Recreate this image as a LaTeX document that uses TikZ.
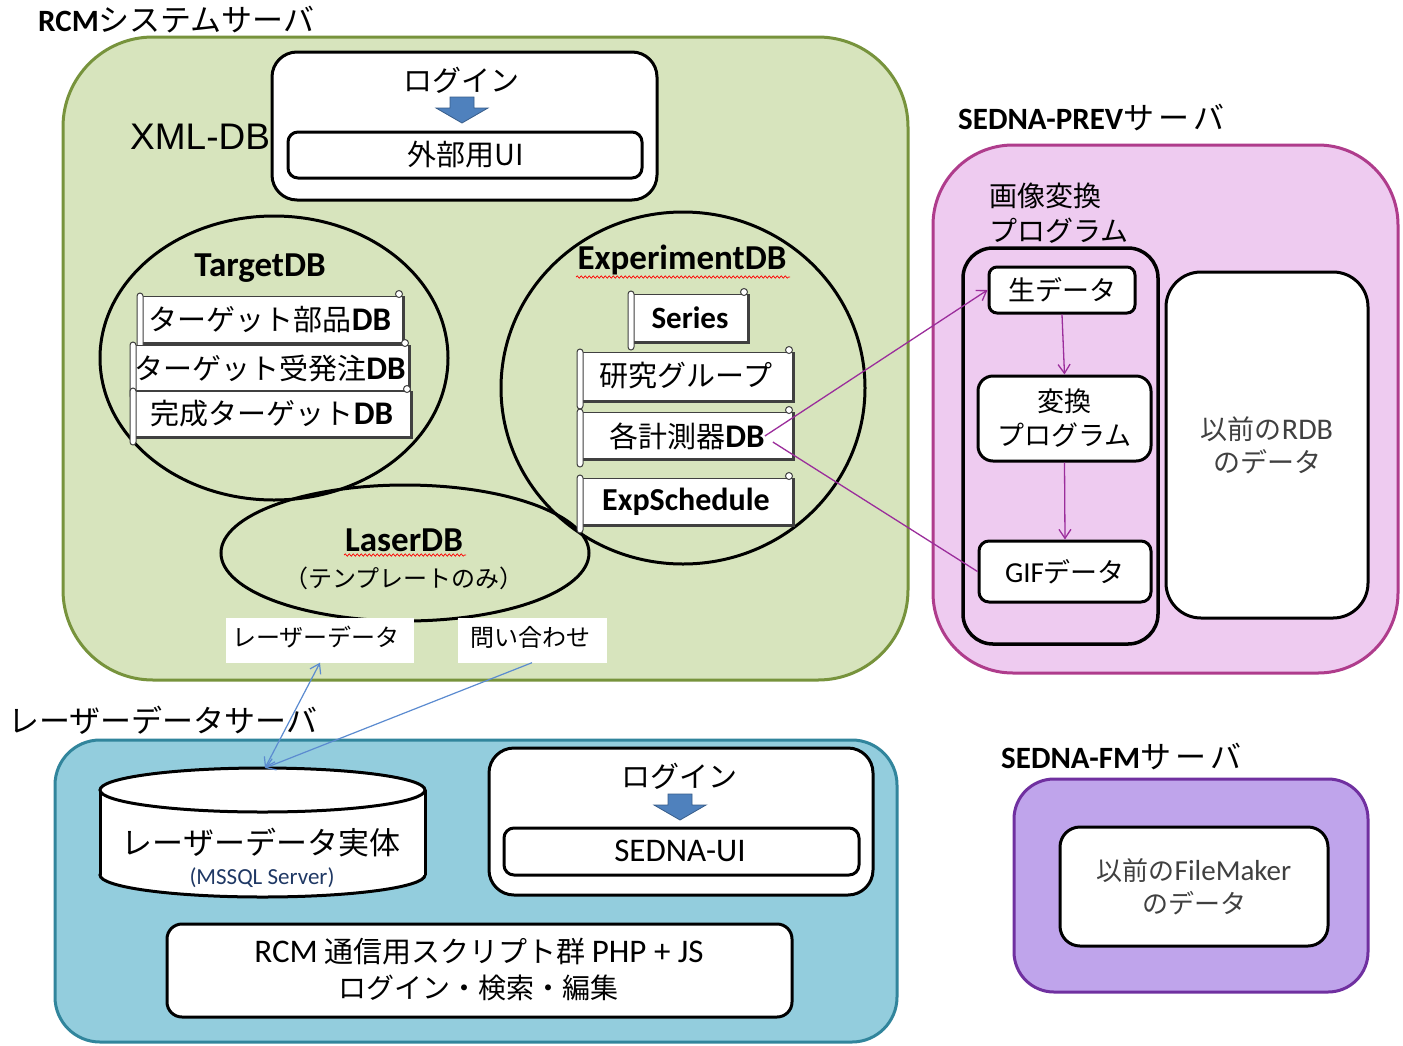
\documentclass[tikz,border=0pt]{standalone}
\usepackage{fontspec}
\setmainfont{Noto Sans CJK JP}
\newfontfamily\latf{Carlito}
\newfontfamily\arialf{Liberation Sans}
\usetikzlibrary{shapes.geometric,arrows.meta,decorations.pathmorphing}
\definecolor{gfill}{HTML}{D7E4BD}
\definecolor{gline}{HTML}{77933C}
\definecolor{bfill}{HTML}{93CDDD}
\definecolor{bline}{HTML}{31859C}
\definecolor{pfill}{HTML}{EECBF0}
\definecolor{pline}{HTML}{AF3C8C}
\definecolor{vfill}{HTML}{BFA4EB}
\definecolor{vline}{HTML}{7030A0}
\definecolor{arrblue}{HTML}{4F81BD}
\definecolor{arrline}{HTML}{385D8A}
\definecolor{pconn}{HTML}{9B2D9B}
\definecolor{bconn}{HTML}{5B8BD0}
\definecolor{navy}{HTML}{1F3864}
\definecolor{scrl}{HTML}{404040}
\newcommand\fsz[2]{\fontsize{#1pt}{#2pt}\selectfont}
\newcommand\scrollshape[4]{%
  \draw[scrl, line width=2pt] (#1+6,#4+1.5) -- (#3+1.5,#4+1.5) -- (#3+1.5,#2);
  \draw[scrl, line width=1pt, fill=white] (#1+5,#2) rectangle (#3,#4);
  \draw[scrl, line width=1pt, fill=white, rounded corners=3pt] (#1,#2-3) rectangle (#1+6,#4+9);
  \draw[scrl, line width=1pt, fill=white] (#3-3,#2-2) circle[radius=3.5pt];
}
\newcommand\blockarrow[2]{% center x, top y
  \draw[arrline, fill=arrblue, line width=0.8pt] (#1-12,#2) -- (#1+12,#2) -- (#1+12,#2+11) -- (#1+26,#2+11) -- (#1,#2+26) -- (#1-26,#2+11) -- (#1-12,#2+11) -- cycle;
}
\tikzset{
  container/.style={line width=3pt},
  wbox/.style={draw=black, fill=white, line width=3pt},
  dbell/.style={ellipse, draw=black, line width=3pt, inner sep=0pt},
  jtxt/.style={inner sep=0pt, font=\fsz{28}{34}},
  btxt/.style={inner sep=0pt, font=\latf\bfseries\fsz{35}{40}},
  ttl/.style={inner sep=0pt, anchor=west, font=\fsz{31}{36}},
  pline/.style={draw=pconn, line width=1.3pt},
  bcon/.style={draw=bconn, line width=1.2pt},
  tip/.style={-{Straight Barb[length=9pt,width=12pt]}},
  wavy/.style={draw=red, line width=0.7pt, decorate, decoration={snake, amplitude=1.2pt, segment length=4pt}},
}
\begin{document}
\begin{tikzpicture}[x=1pt,y=-1pt]
\useasboundingbox (0,0) rectangle (1403,1045);
\fill[white] (0,0) rectangle (1403,1045);

% ===== RCM system server =====
\node[ttl] (rcmtitle) at (38,20) {{\latf\bfseries\fsz{31}{36}RCM}システムサーバ};
\node[container, draw=gline, fill=gfill, rounded corners=90pt, minimum width=845pt, minimum height=643pt] (rcm) at (485.5,358.5) {};
\node[inner sep=0pt, anchor=west, font=\arialf\fsz{37}{40}] (xmldb) at (130,137) {XML-DB};

\node[wbox, rounded corners=25pt, minimum width=385pt, minimum height=148pt] (login1) at (464.5,126) {};
\node[jtxt, font=\fsz{29}{34}] (login1t) at (461,80) {ログイン};
\blockarrow{462}{97}
\node[wbox, rounded corners=10pt, minimum width=354pt, minimum height=46pt] (ui1) at (465,155) {};
\node[jtxt, font=\fsz{29}{34}] (ui1t) at (466,155) {外部用UI};

% ellipses
\node[dbell, minimum width=348pt, minimum height=284pt] (tgt) at (274,358) {};
\node[dbell, minimum width=364pt, minimum height=352pt] (exp) at (683,388) {};
\node[dbell, minimum width=368pt, minimum height=136pt] (las) at (405,553) {};

\node[btxt] (tgtt) at (260,268) {TargetDB};
\node[btxt] (expt) at (682,260) {ExperimentDB};
\draw[wavy] (576,277) -- (790,277);
\node[btxt] (last) at (404,540) {LaserDB};
\draw[wavy] (344,555) -- (466,555);
\node[jtxt, font=\fsz{24}{30}] (lastp) at (404,578) {（テンプレートのみ）};

% scrolls TargetDB
\scrollshape{137}{296}{402}{342}
\node[jtxt, font=\fsz{29}{34}] (s1) at (270,320) {ターゲット部品{\latf\bfseries\fsz{33}{34}DB}};
\scrollshape{130}{345}{408}{390}
\node[jtxt, font=\fsz{29}{34}] (s2) at (270,368) {ターゲット受発注{\latf\bfseries\fsz{33}{34}DB}};
\scrollshape{130}{391}{410}{436}
\node[jtxt, font=\fsz{29}{34}] (s3) at (272,414) {完成ターゲット{\latf\bfseries\fsz{33}{34}DB}};

% scrolls ExperimentDB
\scrollshape{628}{294}{747}{341}
\node[btxt, font=\latf\bfseries\fsz{31}{36}] (s4) at (690,318) {Series};
\scrollshape{577}{352}{792}{400}
\node[jtxt, font=\fsz{29}{34}] (s5) at (686,376) {研究グループ};
\scrollshape{577}{412}{792}{458}
\node[jtxt, font=\fsz{29}{34}] (s6) at (687,436) {各計測器{\latf\bfseries\fsz{33}{34}DB}};
\scrollshape{577}{478}{792}{524}
\node[btxt, font=\latf\bfseries\fsz{32}{36}] (s7) at (686,502) {ExpSchedule};

% labels
\node[fill=white, minimum width=188pt, minimum height=45pt, inner sep=0pt] (lbl1) at (320,640) {};
\node[jtxt, font=\fsz{24}{30}] (lbl1t) at (316,637) {レーザーデータ};
\node[fill=white, minimum width=149pt, minimum height=45pt, inner sep=0pt] (lbl2) at (532,640) {};
\node[jtxt, font=\fsz{24}{30}] (lbl2t) at (530,637) {問い合わせ};

% ===== Laser data server =====
\node[ttl] (lastitle) at (8,720) {レーザーデータサーバ};
\node[container, draw=bline, fill=bfill, rounded corners=45pt, minimum width=842pt, minimum height=302pt] (lsrv) at (476,891) {};

% cylinder
\node[ellipse, draw=black, fill=white, line width=3pt, minimum width=325pt, minimum height=44pt, inner sep=0pt] (cylbot) at (262.5,875) {};
\fill[white] (101.5,790) rectangle (423.5,875);
\draw[line width=3pt] (100,790) -- (100,875) (425,790) -- (425,875);
\node[ellipse, draw=black, fill=white, line width=3pt, minimum width=325pt, minimum height=44pt, inner sep=0pt] (cyltop) at (262.5,790) {};
\coordinate (cylpt) at (265,768);
\node[jtxt, font=\fsz{31}{34}] (cylt) at (261,843) {レーザーデータ実体};
\node[inner sep=0pt, font=\latf\fsz{23}{26}, text=navy] (cyls) at (262,878) {(MSSQL Server)};

\node[wbox, rounded corners=25pt, minimum width=384pt, minimum height=147pt] (login2) at (681,821.5) {};
\node[jtxt, font=\fsz{29}{34}] (login2t) at (679,776) {ログイン};
\blockarrow{680}{794}
\node[wbox, rounded corners=10pt, minimum width=355pt, minimum height=47pt] (ui2) at (681.5,851.5) {};
\node[inner sep=0pt, font=\latf\fsz{33}{36}] (ui2t) at (680,851) {SEDNA-UI};

\node[wbox, rounded corners=15pt, minimum width=625pt, minimum height=93pt] (script) at (479.5,970.5) {};
\node[jtxt, font=\fsz{29}{36}] (scr1) at (479,952) {{\latf\fsz{33}{36}RCM} 通信用スクリプト群 {\latf\fsz{33}{36}PHP + JS}};
\node[jtxt, font=\fsz{28}{36}] (scr2) at (478,988) {ログイン・検索・編集};

% connectors blue
\draw[bcon, {Straight Barb[length=9pt,width=12pt]}-{Straight Barb[length=9pt,width=12pt]}] (cylpt) -- (lbl1.south);
\draw[bcon, tip] (lbl2.south) -- (cylpt);

% ===== SEDNA-PREV server =====
\node[ttl] (prevtitle) at (958,118) {{\latf\bfseries\fsz{31}{36}SEDNA-PREV}サ\hspace{4pt}ー\hspace{4pt}バ};
\node[container, draw=pline, fill=pfill, rounded corners=80pt, minimum width=465pt, minimum height=528pt] (prev) at (1165.5,409) {};
\node[inner sep=0pt, anchor=west, font=\fsz{28}{34}] (imgt1) at (989,196) {画像変換};
\node[inner sep=0pt, anchor=west, font=\fsz{28}{34}] (imgt2) at (989,231) {プログラム};
\node[draw=black, line width=3.5pt, rounded corners=30pt, minimum width=195pt, minimum height=396pt] (prog) at (1060.5,446) {};
\node[wbox, rounded corners=8pt, minimum width=146pt, minimum height=46pt, font=\fsz{27}{32}, inner sep=0pt] (raw) at (1062,290) {生データ};
\node[wbox, rounded corners=15pt, minimum width=173pt, minimum height=85pt, font=\fsz{27}{34}, align=center, inner sep=0pt] (conv) at (1064.5,418.5) {変換\\プログラム};
\node[wbox, rounded corners=10pt, minimum width=172pt, minimum height=61pt, font=\fsz{27}{32}, inner sep=0pt] (gif) at (1065,571.5) {{\latf\fsz{29}{32}GIF}データ};
\node[wbox, rounded corners=35pt, minimum width=202pt, minimum height=346pt, font=\fsz{27}{33}, align=center, text=black!75] (rdb) at (1267,445) {以前の{\latf\fsz{30}{33}RDB}\\のデータ};

\draw[pline, tip] (raw.south) -- (conv.north);
\draw[pline, tip] (conv.south) -- (gif.north);
\draw[pline, tip] (s6.east) -- (raw.west);
\coordinate (s6b) at ([shift={(8,6)}]s6.east);
\draw[pline] (s6b) -- (gif.west);

% ===== SEDNA-FM server =====
\node[ttl] (fmtitle) at (1001,757) {{\latf\bfseries\fsz{31}{36}SEDNA-FM}サ\hspace{4pt}ー\hspace{4pt}バ};
\node[container, draw=vline, fill=vfill, rounded corners=40pt, minimum width=354pt, minimum height=213pt] (fm) at (1191,885.5) {};
\node[wbox, rounded corners=20pt, minimum width=268pt, minimum height=119pt, font=\fsz{26}{33}, align=center, text=black!75] (fmdata) at (1194,886.5) {以前の{\latf\fsz{29}{33}FileMaker}\\のデータ};
\end{tikzpicture}
\end{document}
